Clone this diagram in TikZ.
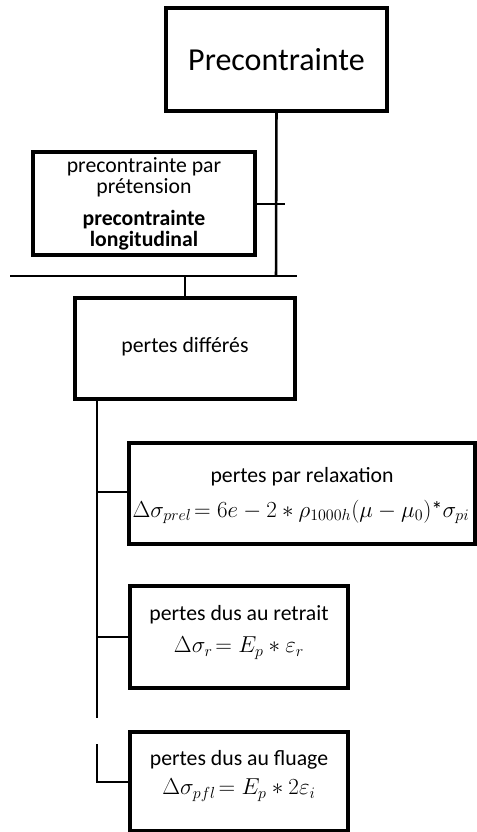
\documentclass[tikz,border=0pt]{standalone}
\usepackage{fontspec}
\setmainfont{Carlito}
\begin{document}
\begin{tikzpicture}[x=0.75pt,y=-0.75pt,
  box/.style={draw=black,line width=3pt,fill=white,rectangle,inner sep=0pt,align=center},
  conn/.style={draw=black,line width=1.9pt},
  txt/.style={font=\fontsize{16.3}{23}\selectfont,align=center,inner sep=0pt},
  mth/.style={font=\fontsize{16.8}{23}\selectfont,align=center,inner sep=0pt}]
\useasboundingbox (0,0) rectangle (476,832);
% boxes
\node[box,minimum width=221*0.75pt,minimum height=103*0.75pt,font=\fontsize{24}{28}\selectfont] (P) at (276.5,59.5) {Precontrainte};
\node[box,minimum width=222*0.75pt,minimum height=103*0.75pt] (L) at (144,203.5) {};
\node[txt,font=\fontsize{16.3}{15.5}\selectfont] (Lt) at (144,177) {precontrainte par\\prétension};
\node[txt,font=\bfseries\fontsize{16.3}{15.8}\selectfont] (Lb) at (144,230.5) {precontrainte\\longitudinal};
\node[box,minimum width=220*0.75pt,minimum height=101*0.75pt] (D) at (185,348.5) {};
\node[txt] (Dt) at (185,347) {pertes différés};
\node[box,minimum width=346*0.75pt,minimum height=101*0.75pt] (R) at (302,493.5) {};
\node[txt] (Rt) at (302,477) {pertes par relaxation};
\node[mth] (Rf) at (301,512) {$\Delta\sigma_{prel}\!= 6e - 2 * \rho_{1000h}(\mu-\mu_0)\mbox{*}\sigma_{pi}$};
\node[box,minimum width=218*0.75pt,minimum height=102*0.75pt] (T) at (239,637) {};
\node[txt] (Tt) at (239,615) {pertes dus au retrait};
\node[mth] (Tf) at (239,648) {$\Delta\sigma_{r}\!= E_p * \varepsilon_r$};
\node[box,minimum width=218*0.75pt,minimum height=99*0.75pt] (F) at (239,781.5) {};
\node[txt] (Ft) at (239,760) {pertes dus au fluage};
\node[mth] (Ff) at (239,790) {$\Delta\sigma_{pfl}\!= E_p * 2\varepsilon_i$};
% coordinates
\coordinate (busL) at (10,276);
\coordinate (busR) at (297,276);
\coordinate (busP) at (276,276);
\coordinate (busD) at (185,276);
\coordinate (tickL) at (285,204);
\coordinate (v1) at (97,718);
\coordinate (v2) at (97,744);
\coordinate (v3) at (97,782);
\coordinate (vR) at (97,492);
\coordinate (vT) at (97,637);
% connectors
\draw[conn] (P.south) -- (busP);
\draw[conn] (busL) -- (busR);
\draw[conn] (L.east |- tickL) -- (tickL);
\draw[conn] (busD) -- (D.north);
\draw[conn] (D.south -| v1) -- (v1);
\draw[conn] (v2) -- (v3) -- (F.west |- v3);
\draw[conn] (vR) -- (R.west |- vR);
\draw[conn] (vT) -- (T.west |- vT);
\end{tikzpicture}
\end{document}
